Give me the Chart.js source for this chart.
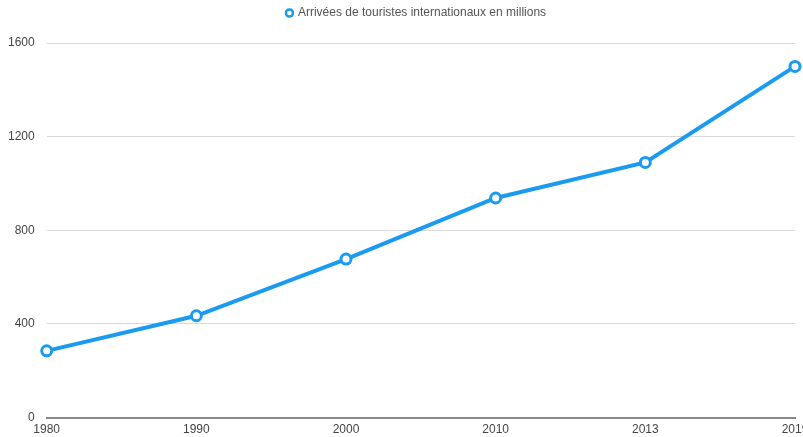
<!DOCTYPE html>
<html>
<head>
<meta charset="utf-8">
<script src="https://cdn.jsdelivr.net/npm/chart.js@4/dist/chart.umd.min.js"></script>
<style>
html,body{margin:0;padding:0;background:#fff;overflow:hidden;width:803px;height:437px;}
</style>
</head>
<body>
<canvas id="c" width="803" height="437"></canvas>
<script>
const years = ['1980','1990','2000','2010','2013','2019'];
const arrivals = [285, 435, 677, 938, 1090, 1500];
const seriesLabel = 'Arrivées de touristes internationaux en millions';
const yTicks = [0, 400, 800, 1200, 1600];

const blue = '#1b9bf0';
const FONT = 'Liberation Sans, Arial, sans-serif';

const legendSpacer = {
  id: 'legendSpacer',
  beforeInit(chart) {
    const origFit = chart.legend.fit;
    chart.legend.fit = function () {
      origFit.bind(chart.legend)();
      this.height += 14;
    };
  },
  afterLayout(chart) {
    chart.legend.left += 21;
    chart.legend.right += 21;
  }
};

new Chart(document.getElementById('c'), {
  type: 'line',
  data: {
    labels: years,
    datasets: [{
      label: seriesLabel,
      data: arrivals,
      borderColor: blue,
      backgroundColor: '#ffffff',
      borderWidth: 4,
      pointRadius: 5,
      pointBorderWidth: 3,
      pointBorderColor: blue,
      pointBackgroundColor: '#ffffff',
      tension: 0,
      fill: false
    }]
  },
  plugins: [legendSpacer],
  options: {
    responsive: false,
    animation: false,
    devicePixelRatio: 1,
    layout: { padding: { left: -4, top: 0, right: 8, bottom: -5 } },
    plugins: {
      legend: {
        display: true,
        position: 'top',
        labels: {
          usePointStyle: true,
          pointStyle: 'circle',
          boxWidth: 5,
          boxHeight: 5,
          color: '#555',
          font: { family: FONT, size: 12 },
          padding: 7,
          generateLabels(chart) {
            const items = Chart.defaults.plugins.legend.labels.generateLabels(chart);
            items.forEach(it => { it.lineWidth = 2.5; it.fillStyle = '#ffffff'; });
            return items;
          }
        }
      },
      tooltip: { enabled: false }
    },
    scales: {
      x: {
        type: 'category',
        offset: false,
        grid: { display: false, drawTicks: false },
        border: { display: true, color: '#8a8a8a', width: 2 },
        ticks: {
          color: '#444',
          font: { family: FONT, size: 12 },
          padding: 5,
          maxRotation: 0,
          autoSkip: false
        },
        afterFit(scale) { scale.paddingLeft = 0; scale.paddingRight = 0; }
      },
      y: {
        min: 0,
        max: 1600,
        afterBuildTicks: (axis) => { axis.ticks = yTicks.map(v => ({ value: v })); },
        grid: { color: '#d9d9d9', lineWidth: 1, drawTicks: false },
        border: { display: false },
        ticks: {
          color: '#444',
          font: { family: FONT, size: 12 },
          padding: 12,
          callback: (v) => String(v)
        }
      }
    }
  }
});
</script>
</body>
</html>
